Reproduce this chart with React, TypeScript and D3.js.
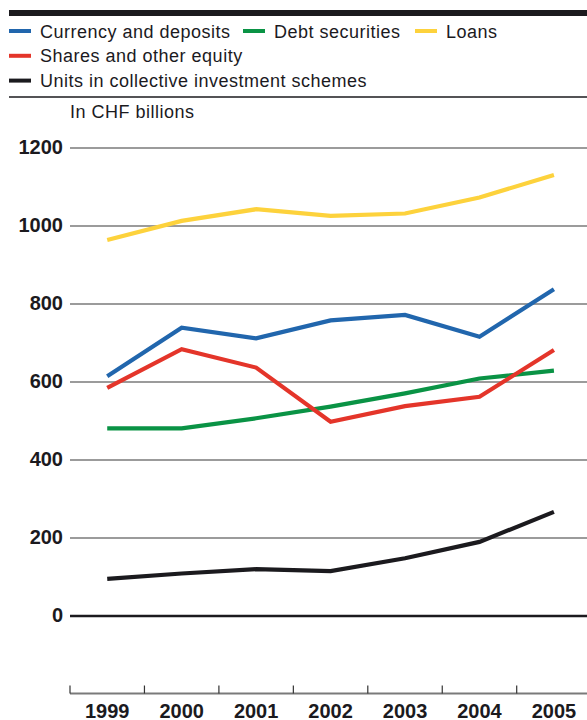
import { axisBottom, line, scaleBand, scaleLinear, select } from 'd3'
import { useEffect, useRef } from 'react'

const years = ['1999', '2000', '2001', '2002', '2003', '2004', '2005']
const yTicks = [0, 200, 400, 600, 800, 1000, 1200]

const currency = [615, 739, 712, 758, 772, 716, 838]
const debt = [481, 481, 507, 537, 571, 609, 629]
const loans = [964, 1013, 1043, 1026, 1032, 1073, 1131]
const shares = [585, 684, 637, 498, 538, 562, 682]
const units = [95, 109, 120, 115, 148, 190, 267]

const seriesNames = [
  'Currency and deposits',
  'Debt securities',
  'Loans',
  'Shares and other equity',
  'Units in collective investment schemes',
]
const seriesValues = [currency, debt, loans, shares, units]
const colors = ['#2166ad', '#0a9345', '#fdd23c', '#e4352a', '#1b1a1e']

const W = 587
const H = 720
const font = '"Liberation Sans", Arial, sans-serif'

const App = () => {
  const svgRef = useRef<SVGSVGElement | null>(null)

  useEffect(() => {
    if (!svgRef.current) return
    const svg = select(svgRef.current)
    svg.selectAll('*').remove()

    const xScale = scaleBand().domain(years).range([70, 70 + 7 * 74.45]).padding(0)
    const xPos = (ix: number) => (xScale(years[ix]) ?? 0) + xScale.bandwidth() / 2
    const yScale = scaleLinear().domain([0, 1200]).range([616, 148])

    // title remnant + top rule
    svg.append('text').attr('x', 19).attr('y', -4).attr('font-family', font)
      .attr('font-size', 18).attr('fill', '#1b1a1e').text('g')
    svg.append('rect').attr('x', 9).attr('y', 10).attr('width', W - 9).attr('height', 6).attr('fill', '#1b1a1e')

    // legend
    const rows = [
      [{ i: 0, x: 9 }, { i: 1, x: 243 }, { i: 2, x: 415 }],
      [{ i: 3, x: 9 }],
      [{ i: 4, x: 9 }],
    ]
    rows.forEach((row, r) => {
      const cy = 31 + r * 24.8
      row.forEach(({ i, x }) => {
        svg.append('line').attr('x1', x).attr('x2', x + 22).attr('y1', cy).attr('y2', cy)
          .attr('stroke', colors[i]).attr('stroke-width', 4)
        svg.append('text').attr('x', x + 31).attr('y', cy + 6.5)
          .attr('font-family', font).attr('font-size', 18).attr('letter-spacing', 0.5)
          .attr('fill', '#1b1a1e').text(seriesNames[i])
      })
    })
    svg.append('line').attr('x1', 9).attr('x2', W).attr('y1', 97).attr('y2', 97)
      .attr('stroke', '#1b1a1e').attr('stroke-width', 1.5)

    svg.append('text').attr('x', 70).attr('y', 118).attr('font-family', font)
      .attr('font-size', 18).attr('letter-spacing', 0.5).attr('fill', '#1b1a1e').text('In CHF billions')

    // grid + y labels
    const grid = svg.append('g')
    grid.selectAll('line').data(yTicks).join('line')
      .attr('x1', (d) => (d === 0 ? 70 : 70)).attr('x2', W)
      .attr('y1', (d) => yScale(d)).attr('y2', (d) => yScale(d))
      .attr('stroke', (d) => (d === 0 ? '#1b1a1e' : '#7a7a7a'))
      .attr('stroke-width', (d) => (d === 0 ? 2.5 : 1.5))
    grid.selectAll('text').data(yTicks).join('text')
      .attr('x', 63).attr('y', (d) => yScale(d) + 6)
      .attr('text-anchor', 'end').attr('font-family', font).attr('font-weight', 'bold')
      .attr('font-size', 20).attr('fill', '#1b1a1e').text((d) => String(d))

    // lines
    const lineGen = line<number>().x((_, ix) => xPos(ix)).y((d) => yScale(d))
    svg.append('g').selectAll('path').data(seriesValues).join('path')
      .attr('d', (d) => lineGen(d))
      .attr('fill', 'none')
      .attr('stroke', (_, ix) => colors[ix])
      .attr('stroke-width', 4.2)
      .attr('stroke-linejoin', 'miter')

    // x axis
    const xAxis = svg.append('g').attr('transform', 'translate(0, 693.5)')
    xAxis.append('line').attr('x1', 70).attr('x2', W).attr('y1', 0).attr('y2', 0)
      .attr('stroke', '#7a7a7a').attr('stroke-width', 2)
    xAxis.selectAll('line.tick').data(years).join('line').attr('class', 'tick')
      .attr('x1', (d) => xScale(d) ?? 0).attr('x2', (d) => xScale(d) ?? 0)
      .attr('y1', -8).attr('y2', 0).attr('stroke', '#333').attr('stroke-width', 1.2)
    const labels = svg.append('g').attr('transform', 'translate(0, 700)')
      .call(axisBottom(xScale).tickSize(0).tickPadding(0))
    labels.select('.domain').remove()
    labels.selectAll('text')
      .attr('y', 17.5).attr('dy', null)
      .attr('font-family', font).attr('font-weight', 'bold').attr('font-size', 20)
      .attr('fill', '#1b1a1e')
  }, [])

  return (
    <svg
      ref={svgRef}
      width={W}
      height={H}
      style={{ position: 'absolute', left: 0, top: 0, background: '#fff' }}
    />
  )
}

export default App
